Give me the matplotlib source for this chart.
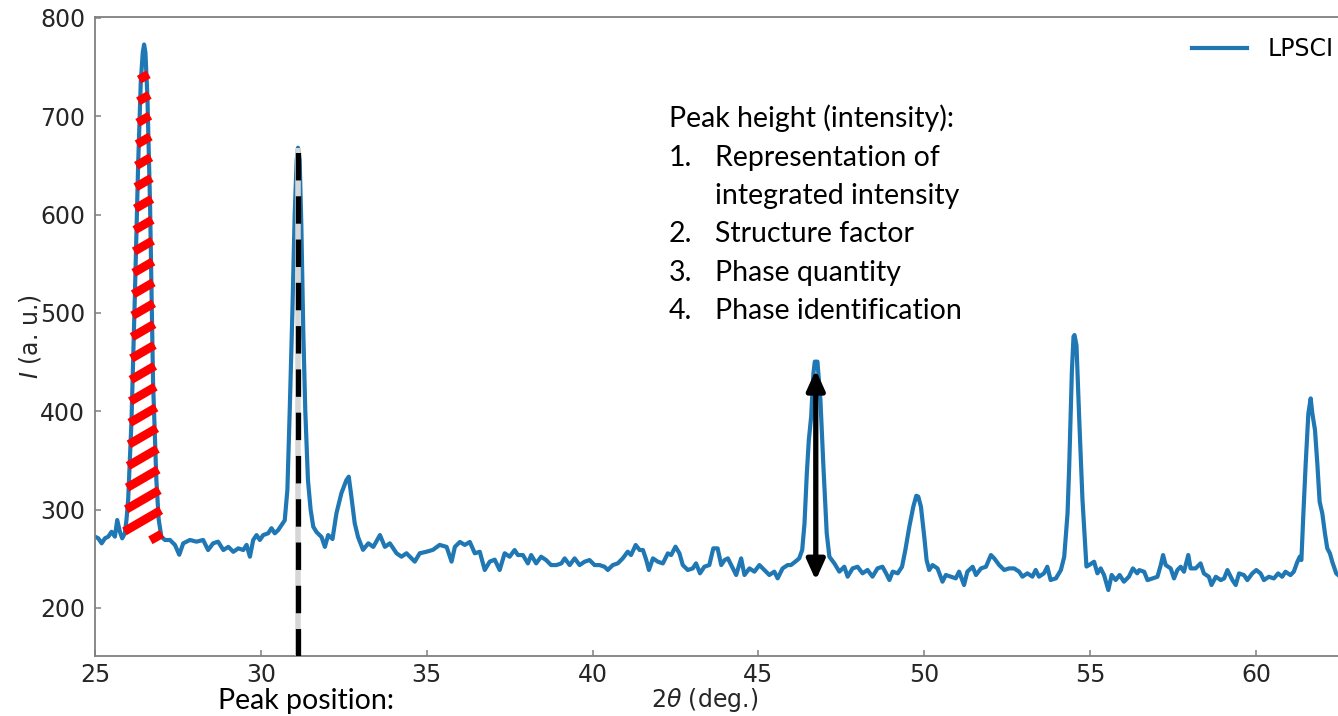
import numpy as np
import matplotlib
matplotlib.use("Agg")
import matplotlib.pyplot as plt
from matplotlib.patches import FancyArrowPatch

# ---------------- data ----------------
two_theta = [
    25.00, 25.10, 25.20, 25.30, 25.40, 25.50, 25.60, 25.67, 25.75, 25.82, 25.90,
    25.95, 26.00, 26.10, 26.20, 26.30, 26.38, 26.44, 26.48, 26.52, 26.58, 26.66,
    26.75, 26.85, 26.92,
    27.00, 27.11, 27.26, 27.41, 27.54, 27.66, 27.86, 28.06, 28.26, 28.41, 28.56,
    28.71, 28.87, 29.02, 29.17, 29.32, 29.47, 29.57, 29.67, 29.77, 29.87, 29.97,
    30.07, 30.22, 30.32, 30.42, 30.52, 30.62, 30.72,
    30.80, 30.87, 30.95, 31.02, 31.08, 31.12, 31.17, 31.22, 31.28, 31.34, 31.42,
    31.50, 31.58, 31.68, 31.83, 31.93, 32.03, 32.16,
    32.28, 32.43, 32.58, 32.65, 32.73, 32.83, 32.93,
    33.08, 33.24, 33.39, 33.59, 33.74, 33.89, 34.09, 34.24, 34.39, 34.64, 34.79,
    34.99, 35.19, 35.39, 35.60, 35.75, 35.85, 36.00, 36.15, 36.30, 36.45, 36.60,
    36.75, 36.90, 37.05, 37.20, 37.35,
    37.50, 37.65, 37.75, 37.90, 38.05, 38.15, 38.30, 38.45, 38.60, 38.75, 38.91,
    39.06, 39.16, 39.31, 39.46, 39.61, 39.76, 39.91, 40.06, 40.21, 40.36, 40.46,
    40.61, 40.76, 40.91, 41.06, 41.16, 41.30, 41.42, 41.52, 41.62, 41.70, 41.82,
    41.97, 42.12, 42.27, 42.37, 42.50, 42.62, 42.72, 42.87, 43.02, 43.12, 43.24,
    43.37, 43.52, 43.64, 43.77, 43.88, 43.98,
    44.08, 44.23, 44.33, 44.48, 44.58, 44.73, 44.88, 45.03, 45.18, 45.33, 45.48,
    45.58, 45.73, 45.88, 45.98, 46.11, 46.23, 46.32,
    46.39, 46.46, 46.52, 46.59, 46.66, 46.70, 46.78, 46.87, 46.96, 47.06,
    47.14, 47.29, 47.44, 47.59, 47.69, 47.84, 47.99, 48.14, 48.29, 48.44, 48.59,
    48.74, 48.85, 48.95, 49.05, 49.20, 49.33,
    49.43, 49.55, 49.67, 49.76, 49.82, 49.90, 50.00, 50.07,
    50.15, 50.25, 50.40, 50.55, 50.65, 50.80, 50.95, 51.05, 51.20, 51.30, 51.46,
    51.56, 51.71, 51.86, 52.01, 52.11, 52.26, 52.41, 52.56, 52.71, 52.86, 52.96,
    53.11, 53.26, 53.36, 53.46, 53.61, 53.71, 53.81, 53.97, 54.12, 54.22,
    54.32, 54.37, 54.45, 54.50, 54.53, 54.59, 54.67, 54.77, 54.89,
    54.97, 55.12, 55.22, 55.32, 55.42, 55.55, 55.65, 55.77, 55.89, 56.02, 56.17,
    56.29, 56.42,
    56.48, 56.63, 56.73, 56.88, 57.03, 57.13, 57.20, 57.28, 57.43, 57.53, 57.63,
    57.73, 57.83, 57.96, 58.03, 58.18, 58.33, 58.43, 58.58, 58.66, 58.79, 58.94,
    59.04, 59.14, 59.29, 59.39, 59.49, 59.64, 59.74, 59.89, 60.01, 60.14, 60.24,
    60.39, 60.54, 60.67, 60.79, 60.89, 61.04, 61.14, 61.25, 61.32, 61.37,
    61.43, 61.50, 61.58, 61.65, 61.70, 61.78, 61.85, 61.92, 62.00, 62.08, 62.15,
    62.23, 62.30, 62.42, 62.60,
]
intensity = [
    272.4, 270.7, 265.6, 270.7, 272.4, 277.4, 272.4, 289.3, 277.4, 270.7, 275.7,
    290.0, 310.0, 390.0, 515.0, 650.0, 735.0, 765.0, 773.0, 765.0, 720.0, 610.0,
    430.0, 330.0, 290.0,
    272.4, 269.0, 269.0, 264.0, 254.0, 265.6, 269.0, 267.3, 269.0, 258.8, 265.6,
    267.3, 258.8, 262.0, 257.0, 260.5, 258.8, 264.0, 252.0, 269.0, 274.0, 269.0,
    274.0, 275.8, 281.0, 275.8, 279.0, 284.0, 289.0,
    320.0, 400.0, 500.0, 600.0, 655.0, 668.0, 655.0, 590.0, 480.0, 400.0, 330.0,
    300.0, 282.5, 277.0, 272.0, 262.0, 274.0, 270.0,
    296.4, 316.8, 330.0, 333.4, 313.0, 286.0, 272.0,
    259.0, 265.6, 262.0, 274.0, 262.0, 265.6, 255.5, 252.0, 255.5, 247.0, 255.5,
    257.0, 259.0, 264.0, 262.0, 247.0, 262.0, 267.0, 264.0, 267.0, 255.5, 257.0,
    238.5, 247.0, 249.0, 238.5, 255.5,
    252.0, 258.8, 253.7, 253.7, 245.2, 253.7, 245.2, 252.0, 248.6, 243.5, 243.5,
    245.2, 250.3, 243.5, 250.3, 243.5, 246.9, 248.6, 243.5, 243.5, 241.8, 238.5,
    243.5, 245.2, 250.3, 257.1, 253.7, 263.9, 258.8, 258.8, 248.6, 238.5, 250.3,
    246.9, 245.2, 255.4, 253.7, 262.2, 255.4, 243.5, 238.5, 240.1, 245.2, 235.1,
    241.8, 243.5, 260.5, 260.5, 243.5, 248.6,
    250.3, 240.1, 233.4, 250.3, 233.4, 240.1, 236.8, 243.5, 238.5, 233.4, 236.8,
    230.0, 240.1, 243.5, 243.5, 246.9, 250.3, 258.8,
    285.9, 336.8, 370.7, 394.4, 438.8, 450.4, 450.4, 411.4, 343.6, 275.8,
    252.0, 245.2, 236.8, 241.8, 231.7, 240.1, 241.8, 235.1, 238.5, 231.7, 240.1,
    241.8, 235.1, 228.3, 236.8, 235.1, 241.8,
    258.8, 282.5, 302.9, 314.0, 313.1, 302.9, 272.4, 248.6,
    238.5, 243.5, 240.1, 226.6, 233.4, 231.7, 230.0, 236.8, 223.2, 236.8, 241.8,
    233.4, 240.1, 241.8, 253.7, 250.3, 243.5, 238.5, 240.1, 240.1, 236.8, 231.7,
    235.1, 231.7, 238.5, 231.7, 235.1, 241.8, 228.3, 230.0, 238.5, 252.0,
    296.0, 344.0, 440.0, 476.0, 477.5, 467.0, 394.0, 310.0, 242.0,
    243.5, 246.9, 235.1, 240.1, 233.4, 218.1, 233.4, 228.3, 233.4, 226.6, 231.7,
    240.1, 235.1,
    238.4, 236.7, 228.2, 229.9, 231.6, 243.5, 253.7, 243.5, 240.1, 229.9, 238.4,
    241.8, 236.7, 253.7, 240.1, 240.1, 245.2, 235.0, 231.6, 223.2, 231.6, 228.2,
    229.9, 238.4, 228.2, 223.2, 235.0, 233.3, 228.2, 235.0, 238.4, 235.0, 228.2,
    231.6, 229.9, 235.0, 231.6, 236.7, 233.3, 236.7, 246.9, 252.0, 248.6,
    296.1, 346.9, 397.8, 413.0, 397.8, 380.8, 346.9, 307.9, 296.1, 275.7, 260.5,
    255.4, 246.9, 235.0, 230.0,
]
series_label = "LPSCI"
x_ticks = [25, 30, 35, 40, 45, 50, 55, 60]
y_ticks = [200, 300, 400, 500, 600, 700, 800]

# annotation anchors (data units)
hatch_peak_range = (25.90, 27.00)    # first reflection, hatched in red
position_line_x = 31.12              # dashed "peak position" marker
position_line_top = 668
height_arrow_x = 46.73               # "peak height" double arrow
height_arrow_span = (228, 442)

heading = "Peak height (intensity):"
list_numbers = ["1.", "", "2.", "3.", "4."]
list_items = ["Representation of", "integrated intensity", "Structure factor",
              "Phase quantity", "Phase identification"]
footer = "Peak position:"

# ---------------- figure ----------------
W, H = 1338, 716
fig = plt.figure(figsize=(W / 100, H / 100), dpi=100)
ax_left, ax_right, ax_top, ax_bot = 95, 1343, 17, 656
ax = fig.add_axes([ax_left / W, (H - ax_bot) / H,
                   (ax_right - ax_left) / W, (ax_bot - ax_top) / H])

x = np.array(two_theta)
y = np.array(intensity)
ax.plot(x, y, color="#1f77b4", lw=3.0, label=series_label, zorder=2)

ax.set_xlim(25, 25 + (ax_right - ax_left) / 33.17)
ax.set_ylim(151, 801)
ax.set_xticks(x_ticks)
ax.set_yticks(y_ticks)

spine_c = "#808080"
for s in ["left", "bottom", "top"]:
    ax.spines[s].set_color(spine_c)
    ax.spines[s].set_linewidth(1.3)
ax.spines["right"].set_visible(False)
ax.tick_params(direction="in", length=4, width=1.1, color=spine_c,
               labelsize=17, labelcolor="#262626")
ax.tick_params(axis="y", pad=7)
ax.tick_params(axis="x", pad=5)

ax.set_xlabel(r"$2\theta$ (deg.)", fontsize=17, color="#262626")
ax.xaxis.set_label_coords((705 - ax_left) / (ax_right - ax_left),
                          (ax_bot - 686) / (ax_bot - ax_top))
ax.set_ylabel(r"$I$ (a. u.)", fontsize=17, color="#262626")
ax.yaxis.set_label_coords((43 - ax_left) / (ax_right - ax_left), 0.5)

leg = ax.legend(loc="center left", frameon=False, fontsize=17,
                bbox_to_anchor=(1180 / W, 1 - 49 / H),
                bbox_transform=fig.transFigure, borderpad=0,
                handlelength=2.35, handletextpad=0.85)

# ---------------- red hatching over the first peak ----------------
pk = (x >= hatch_peak_range[0]) & (x <= hatch_peak_range[1])
px_, py_ = x[pk], y[pk]
itop = int(np.argmax(py_))
lx, ly = px_[:itop + 1], py_[:itop + 1]
rx, ry = px_[itop:][::-1], py_[itop:][::-1]
slope = 19.6   # intensity units per degree (~30 deg on screen)
for lv in np.arange(740, 278, -21.5):
    xl = np.interp(lv, ly, lx)
    xr = np.interp(lv, ry, rx)
    xc, w = 0.5 * (xl + xr), 0.5 * (xr - xl) + 0.06
    ax.plot([xc - w, xc + w], [lv - slope * w, lv + slope * w],
            color="red", lw=6.3, solid_capstyle="butt", zorder=4)
lv = 272
xr = np.interp(lv, ry, rx)
ax.plot([xr - 0.33, xr + 0.02], [lv - slope * 0.17, lv + slope * 0.17],
        color="red", lw=6.3, solid_capstyle="butt", zorder=4)

# ---------------- dashed peak-position marker ----------------
ax.plot([position_line_x, position_line_x], [151, position_line_top],
        color="#d6d6d6", lw=4.0, zorder=3, solid_capstyle="butt")
ax.plot([position_line_x, position_line_x], [151, position_line_top],
        color="black", lw=3.8, dashes=(5.2, 3.0), zorder=4)

# ---------------- peak-height arrow ----------------
arr = FancyArrowPatch((height_arrow_x, height_arrow_span[0]),
                      (height_arrow_x, height_arrow_span[1]),
                      arrowstyle="<|-|>,head_length=0.8,head_width=0.36",
                      mutation_scale=15, lw=3.8, color="black",
                      shrinkA=0, shrinkB=0, zorder=5)
ax.add_patch(arr)

# ---------------- text annotations ----------------
tfont = dict(family=["Lato", "DejaVu Sans"], fontsize=20.5, color="black")
fig.text(669 / W, 1 - 127 / H, heading, ha="left", va="baseline", **tfont)
for i, (num, item) in enumerate(zip(list_numbers, list_items)):
    yb = 1 - (166 + 38.2 * i) / H
    if num:
        fig.text(669 / W, yb, num, ha="left", va="baseline", **tfont)
    fig.text(715 / W, yb, item, ha="left", va="baseline", **tfont)
fig.text(218 / W, 1 - 709 / H, footer, ha="left", va="baseline", **tfont)

fig.savefig("out.png", dpi=100)
